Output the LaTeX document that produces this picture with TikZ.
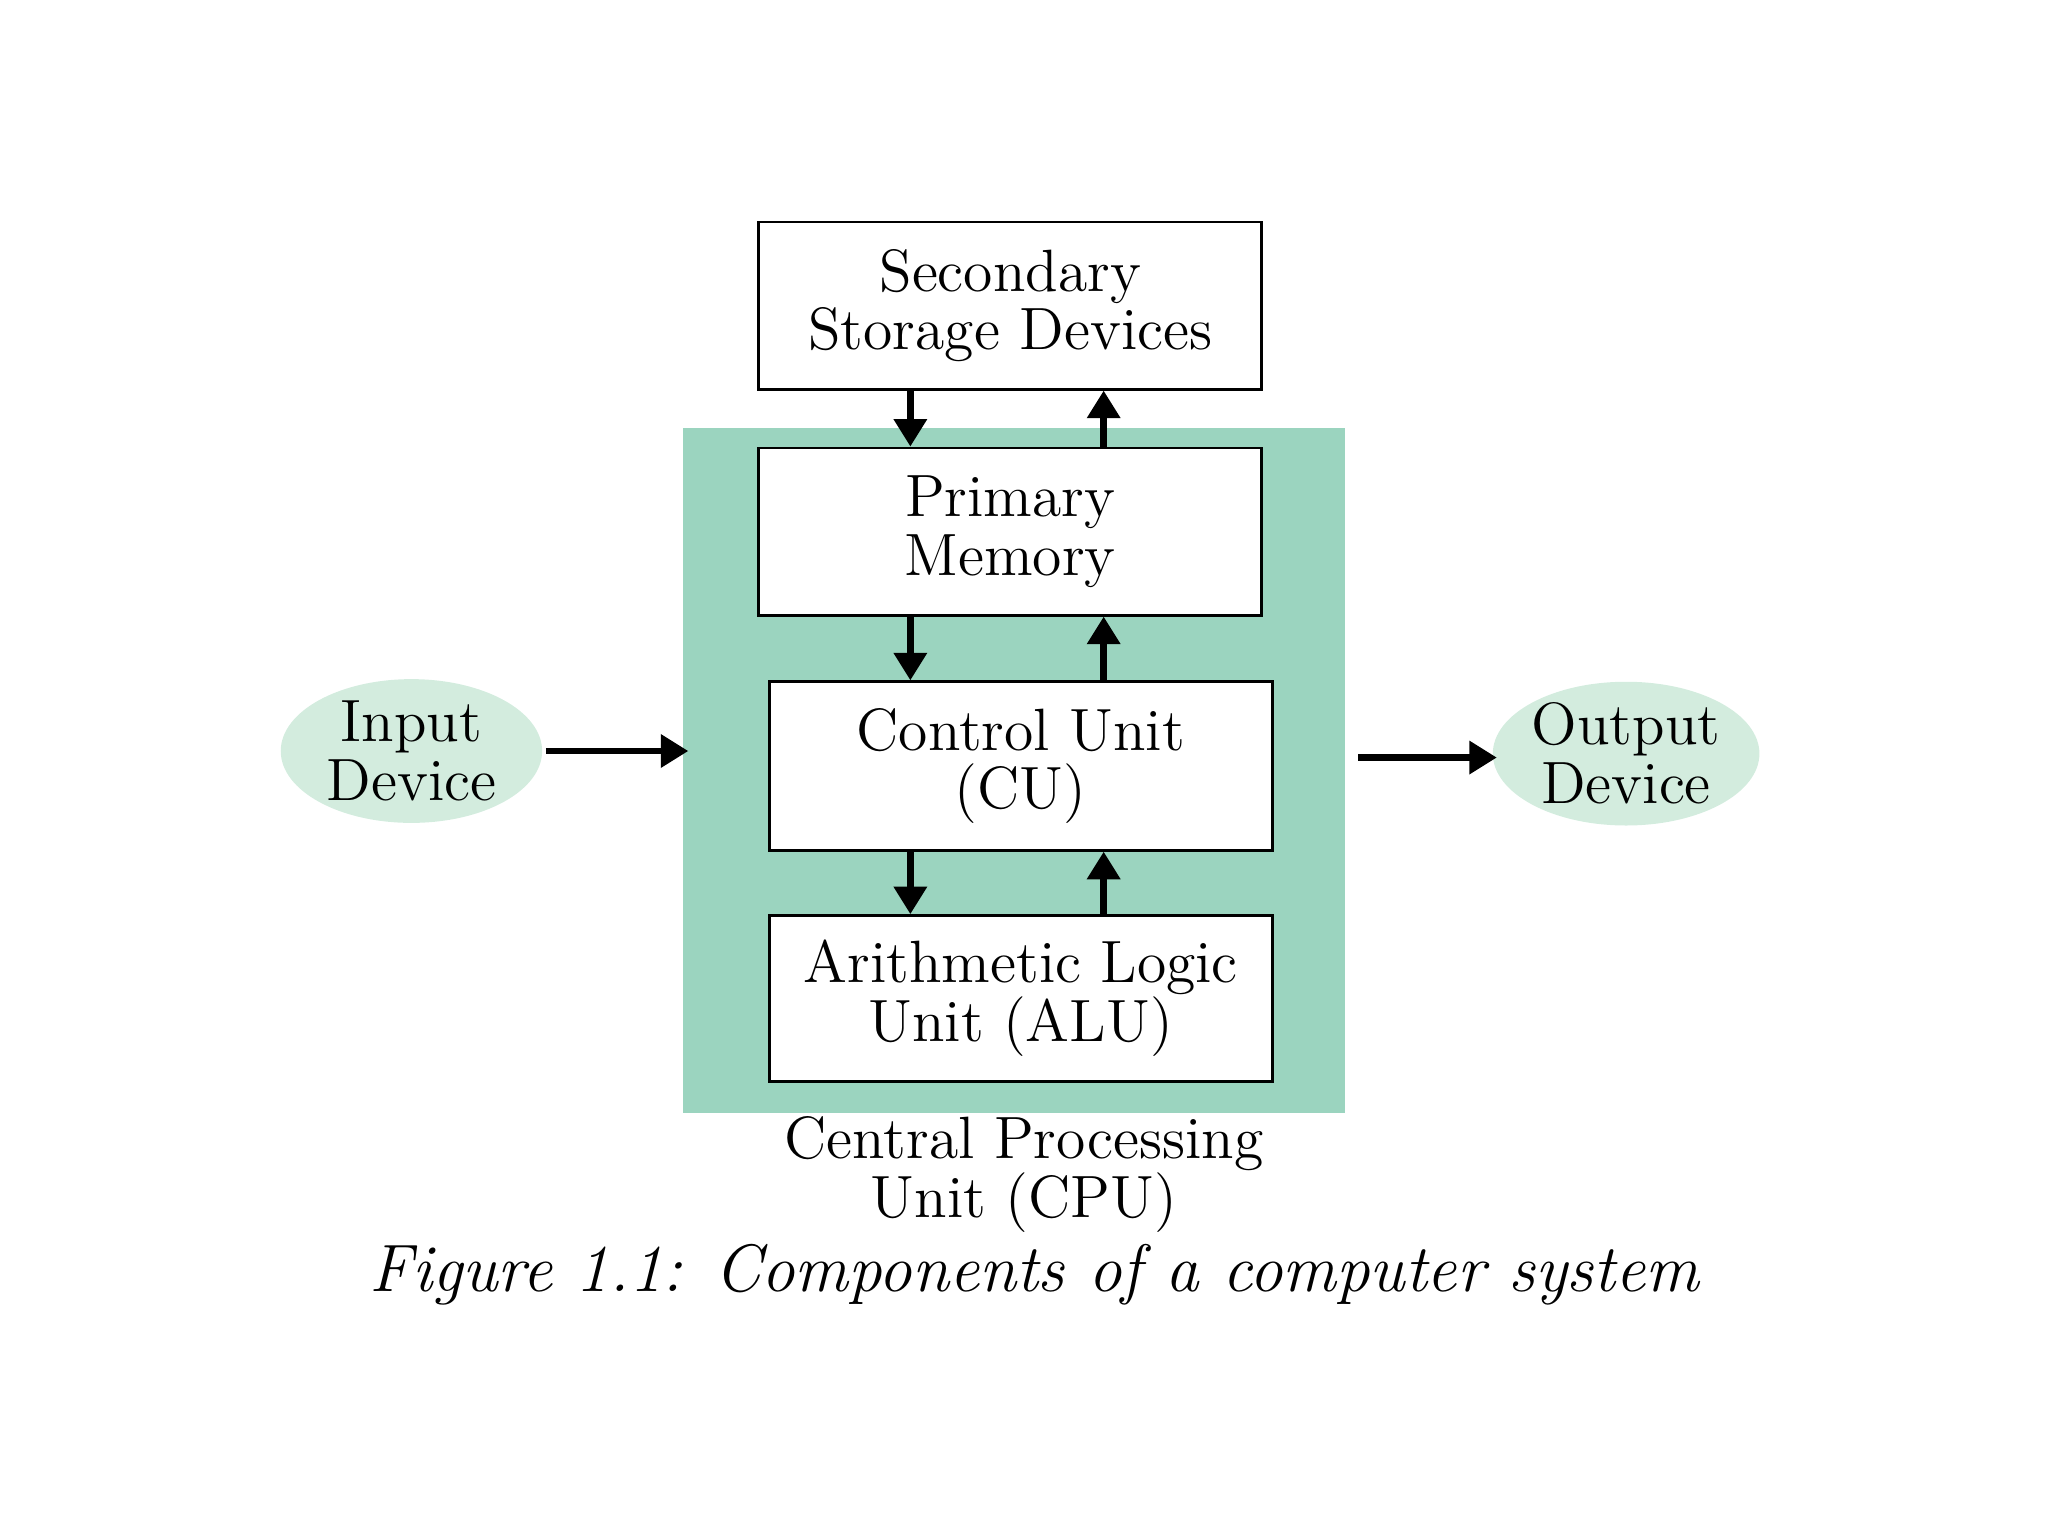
\documentclass[tikz,border=0pt]{standalone}
\usetikzlibrary{arrows.meta,shapes.geometric}
\definecolor{cpugreen}{HTML}{9BD4BF}
\definecolor{ellgreen}{HTML}{D3ECDE}
\begin{document}
\begin{tikzpicture}[x=0.01cm,y=-0.01cm,
  txt/.style={font=\fontsize{13}{12.8}\selectfont,align=center},
  unit/.style={draw=black,fill=white,line width=0.6pt,txt,minimum width=3.85cm},
  arr/.style={-{Triangle[length=6pt,width=7pt]},line width=1.4pt}]
\useasboundingbox (0,0) rectangle (1568,1176);
\fill[cpugreen] (523,328) rectangle (1030,852);
\node[unit,minimum height=1.28cm] (sec) at (773.5,234) {Secondary\\Storage Devices};
\node[unit,minimum height=1.28cm] (pm) at (773.5,407) {Primary\\Memory};
\node[unit,minimum height=1.29cm] (cu) at (781.5,586.5) {Control Unit\\(CU)};
\node[unit,minimum height=1.27cm] (alu) at (781.5,764.5) {Arithmetic Logic\\Unit (ALU)};
\coordinate (cpuL) at (527,575);
\coordinate (cpuR) at (1040,580);
\coordinate (outL) at (1146,580);
\coordinate (inR) at (418,575);
\node[ellipse,fill=ellgreen,inner sep=0pt,minimum width=2cm,minimum height=1.1cm,txt] (in) at (315,575) {Input\\Device};
\node[ellipse,fill=ellgreen,inner sep=0pt,minimum width=2.04cm,minimum height=1.1cm,txt] (out) at (1245,577) {Output\\Device};
\draw[arr] (inR) -- (cpuL);
\draw[arr] (cpuR) -- (outL);
\foreach \a/\b in {sec/pm,pm/cu,cu/alu}{
  \draw[arr] (\a.south -| 697,0) -- (\b.north -| 697,0);
  \draw[arr] (\b.north -| 845,0) -- (\a.south -| 845,0);
}
\node[txt] (cpu) at (784,899) {Central Processing\\Unit (CPU)};
\node[font=\fontsize{14.6}{15}\selectfont\itshape] (cap) at (792,976) {Figure 1.1: Components of a computer system};
\end{tikzpicture}
\end{document}
